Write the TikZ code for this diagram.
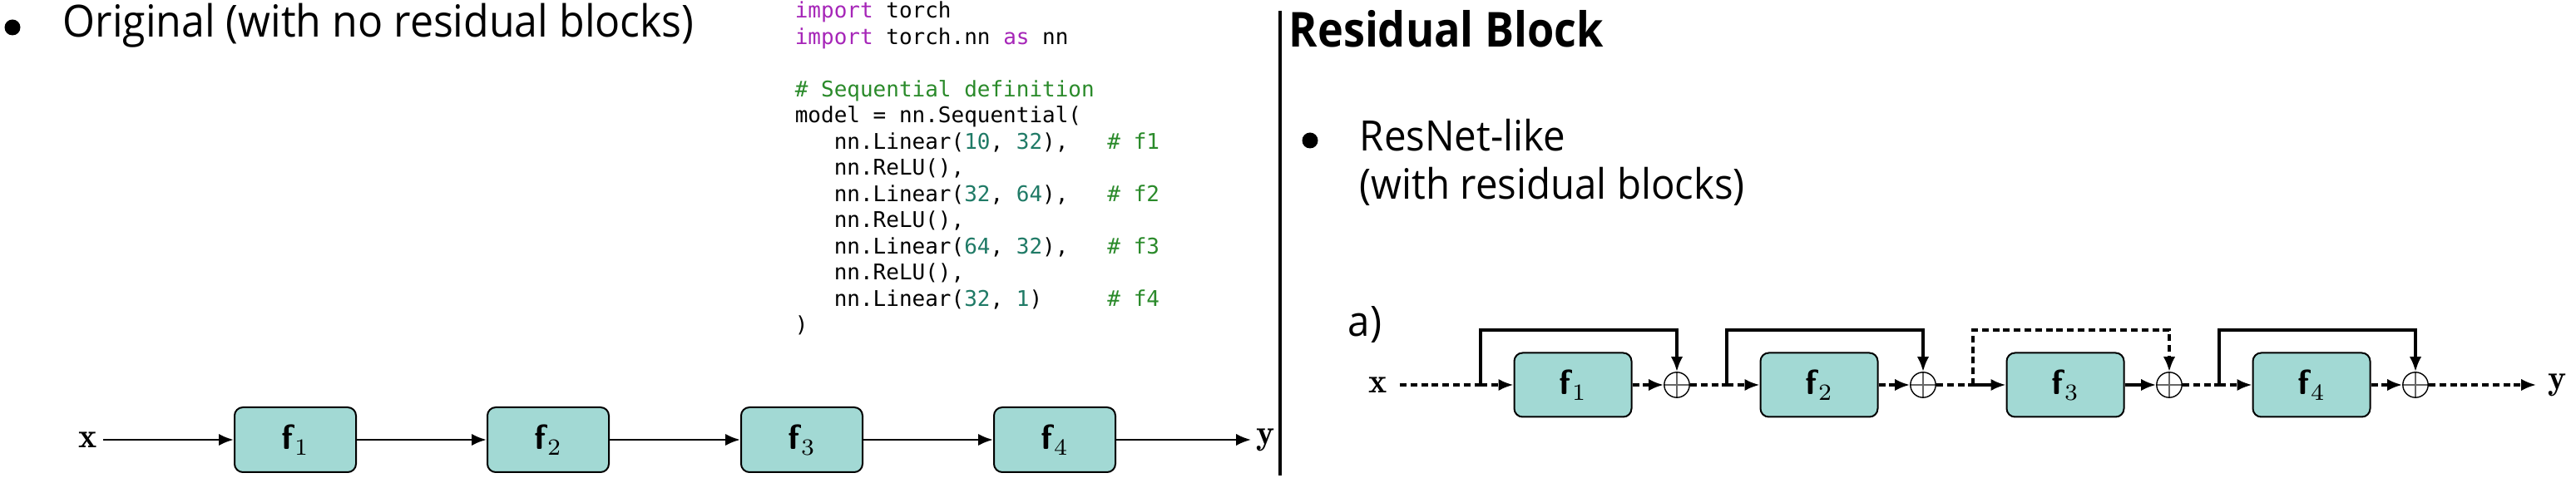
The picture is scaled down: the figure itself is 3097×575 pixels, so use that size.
\documentclass[tikz,border=0pt]{standalone}
\usepackage{fontspec}
\usetikzlibrary{arrows.meta}
\newfontfamily\osans[FakeStretch=0.94]{Open Sans}
\newfontfamily\osanshead[FakeStretch=0.9]{Open Sans}
\newfontfamily\codefont{DejaVu Sans Mono}

\definecolor{boxteal}{HTML}{A2D9D4}
\definecolor{kwpurple}{HTML}{A626B8}
\definecolor{cmtgreen}{HTML}{2A8A2A}
\definecolor{numteal}{HTML}{1F7A66}
\newcommand{\kw}[1]{\textcolor{kwpurple}{#1}}
\newcommand{\cmt}[1]{\textcolor{cmtgreen}{#1}}
\newcommand{\cnum}[1]{\textcolor{numteal}{#1}}

\tikzset{
  txt/.style={anchor=base west, inner sep=0pt, font=\osans\fontsize{12.6}{15}\selectfont},
  codeline/.style={anchor=base west, inner sep=0pt, font=\codefont\fontsize{6.5}{7.9}\selectfont},
  layer/.style={draw, fill=boxteal, rounded corners=2.5pt, line width=0.5pt,
    minimum width=36.5pt, minimum height=19.5pt, inner sep=0pt,
    font=\fontsize{10.5}{12}\selectfont},
  rlayer/.style={layer, minimum width=35.25pt, minimum height=19.25pt},
  lbl/.style={inner sep=1.5pt, font=\fontsize{10.5}{12}\selectfont},
  adder/.style={circle, draw, line width=0.35pt, minimum size=7.6pt, inner sep=0pt,
    path picture={\draw[line width=0.3pt, black!60]
      (path picture bounding box.north) -- (path picture bounding box.south)
      (path picture bounding box.west) -- (path picture bounding box.east);}},
  flow/.style={line width=0.7pt, -{Latex[length=4.5pt,width=3.6pt]}},
  res/.style={line width=0.8pt},
  resdash/.style={res, dash pattern=on 2pt off 1.2pt},
  tip/.style={-{Latex[length=4.5pt,width=3.6pt]}},
}

\begin{document}
\begin{tikzpicture}[x=0.25pt, y=-0.25pt]
    \useasboundingbox (0,0) rectangle (3097,575);

    % Left heading
    \fill (15,33) circle (9.5);
    \node[txt, font=\osans\fontsize{13.3}{16}\selectfont] (origtitle) at (75,45) {Original (with no residual blocks)};

    % Code listing
    \node[codeline] (code0) at (955,22) {\kw{import} torch};
    \node[codeline] (code1) at (955,53.5) {\kw{import} torch.nn \kw{as} nn};
    \node[codeline] (code3) at (955,116.5) {\cmt{\# Sequential definition}};
    \node[codeline] (code4) at (955,148) {model = nn.Sequential(};
    \node[codeline] (code5) at (955,179.5) {\ \ \ nn.Linear(\cnum{10}, \cnum{32}),\ \ \ \cmt{\# f1}};
    \node[codeline] (code6) at (955,211) {\ \ \ nn.ReLU(),};
    \node[codeline] (code7) at (955,242.5) {\ \ \ nn.Linear(\cnum{32}, \cnum{64}),\ \ \ \cmt{\# f2}};
    \node[codeline] (code8) at (955,274) {\ \ \ nn.ReLU(),};
    \node[codeline] (code9) at (955,305.5) {\ \ \ nn.Linear(\cnum{64}, \cnum{32}),\ \ \ \cmt{\# f3}};
    \node[codeline] (code10) at (955,337) {\ \ \ nn.ReLU(),};
    \node[codeline] (code11) at (955,368.5) {\ \ \ nn.Linear(\cnum{32}, \cnum{1})\ \ \ \ \ \cmt{\# f4}};
    \node[codeline] (code12) at (955,400) {)};

    % Plain chain
    \node[lbl] (lx) at (106,529) {$\mathbf{x}$};
    \foreach \i/\cx in {1/355,2/659,3/964,4/1268}
        \node[layer] (f\i) at (\cx,529) {\textsf{\bfseries f}$_\i$};
    \node[lbl] (ly) at (1522,529) {$\mathbf{y}$};
    \draw[flow] (lx) -- (f1);
    \draw[flow] (f1) -- (f2);
    \draw[flow] (f2) -- (f3);
    \draw[flow] (f3) -- (f4);
    \draw[flow] (f4) -- (ly);

    % Divider
    \draw[line width=1pt] (1539,13) -- (1539,572);

    % Right heading
    \node[txt, font=\osanshead\bfseries\fontsize{14.5}{17}\selectfont] (restitle) at (1549,57) {Residual Block};
    \fill (1575,169) circle (9.5);
    \node[txt] (resnet) at (1634,182) {ResNet-like};
    \node[txt] (resnet2) at (1634,240) {(with residual blocks)};
    \node[txt] (parta) at (1620,405) {a)};

    % Residual chain
    \node[lbl, inner sep=3.5pt] (rx) at (1657,463) {$\mathbf{x}$};
    \foreach \i/\cx in {1/1891,2/2187,3/2483,4/2779}{
        \node[rlayer] (b\i) at (\cx,463) {\textsf{\bfseries f}$_\i$};
        \node[adder] (s\i) at (\cx+125,463) {};
        \coordinate (j\i) at (\cx-111,463);
        \coordinate (t\i) at (\cx+125,397);
    }
    \node[lbl, inner sep=3.5pt] (ry) at (3075,463) {$\mathbf{y}$};

    \draw[resdash] (rx) -- (j1);
    \draw[resdash, tip] (j1) -- (b1);
    \draw[resdash, tip] (b1) -- (s1);
    \draw[res, tip] (j1) |- (t1) -- (s1);

    \draw[resdash] (s1) -- (j2);
    \draw[resdash, tip] (j2) -- (b2);
    \draw[resdash, tip] (b2) -- (s2);
    \draw[res, tip] (j2) |- (t2) -- (s2);

    \draw[resdash] (s2) -- (j3);
    \draw[res, tip] (j3) -- (b3);
    \draw[res, tip] (b3) -- (s3);
    \draw[resdash, tip] (j3) |- (t3) -- (s3);

    \draw[resdash] (s3) -- (j4);
    \draw[resdash, tip] (j4) -- (b4);
    \draw[resdash, tip] (b4) -- (s4);
    \draw[res, tip] (j4) |- (t4) -- (s4);

    \draw[resdash, tip] (s4) -- (ry);
\end{tikzpicture}
\end{document}
